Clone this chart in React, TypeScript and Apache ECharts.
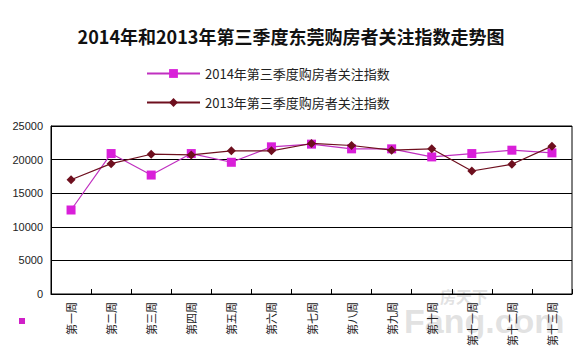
import React, { useEffect, useRef } from "react";
import * as echarts from "echarts";

const titleText = "2014年和2013年第三季度东莞购房者关注指数走势图";
const weeks = ["第一周", "第二周", "第三周", "第四周", "第五周", "第六周", "第七周", "第八周", "第九周", "第十周", "第十一周", "第十二周", "第十三周"];
const series2014Name = "2014年第三季度购房者关注指数";
const series2013Name = "2013年第三季度购房者关注指数";
const values2014 = [12500, 20900, 17700, 20900, 19600, 21900, 22300, 21600, 21600, 20400, 20900, 21400, 21000];
const values2013 = [17000, 19400, 20800, 20700, 21300, 21300, 22400, 22100, 21400, 21600, 18300, 19300, 22000];

const FONT = "'Noto Sans CJK SC', 'Noto Sans', sans-serif";

export default function App() {
  const ref = useRef<HTMLDivElement>(null);
  useEffect(() => {
    if (!ref.current) return;
    const chart = echarts.init(ref.current, null, { renderer: "svg" });
    chart.setOption({
      animation: false,
      backgroundColor: "#fff",
      textStyle: { fontFamily: FONT },
      title: {
        text: titleText,
        left: "center",
        top: 22,
        textStyle: { fontSize: 18, fontWeight: "bold", color: "#111", fontFamily: FONT },
      },
      legend: {
        orient: "vertical",
        left: 141,
        top: 62,
        itemWidth: 53,
        itemHeight: 11,
        itemGap: 16,
        textStyle: { fontSize: 13, color: "#222", fontFamily: FONT },
        data: [series2014Name, series2013Name],
      },
      grid: {
        left: 51,
        right: 10,
        top: 126,
        bottom: 63,
        show: true,
        borderColor: "#000",
        borderWidth: 1,
      },
      xAxis: {
        type: "category",
        data: weeks,
        boundaryGap: true,
        axisLine: { lineStyle: { color: "#000", width: 1 } },
        axisTick: { show: true, inside: true, length: 5, lineStyle: { color: "#000" } },
        axisLabel: { rotate: 90, fontSize: 11, color: "#222", margin: 8, interval: 0, fontFamily: FONT },
      },
      yAxis: {
        type: "value",
        min: 0,
        max: 25000,
        interval: 5000,
        axisLine: { show: true, lineStyle: { color: "#000" } },
        axisTick: { show: false },
        axisLabel: {
          fontSize: 11,
          color: "#222",
          margin: 8,
          fontFamily: "Arial, 'Liberation Sans', sans-serif",
          formatter: (v: number) => String(v),
        },
        splitLine: { show: true, lineStyle: { color: "#000", width: 1 } },
      },
      series: [
        {
          name: series2014Name,
          type: "line",
          data: values2014,
          symbol: "rect",
          symbolSize: 9,
          itemStyle: { color: "#D91FD9" },
          lineStyle: { color: "#C030C0", width: 1.2 },
          z: 3,
        },
        {
          name: series2013Name,
          type: "line",
          data: values2013,
          symbol: "diamond",
          symbolSize: 9,
          itemStyle: { color: "#6E0F1E" },
          lineStyle: { color: "#6E0F1E", width: 1.2 },
          z: 4,
        },
      ],
      graphic: [
        {
          type: "rect",
          left: 19,
          top: 318,
          shape: { width: 6, height: 6 },
          style: { fill: "#D020C8" },
        },
        {
          type: "text",
          left: 440,
          top: 288,
          z: -1,
          style: {
            text: "房天下",
            fontSize: 16,
            fontWeight: "bold",
            fontFamily: FONT,
            fill: "rgba(190,190,190,0.45)",
          },
        },
        {
          type: "text",
          left: 404,
          top: 304,
          z: -1,
          style: {
            text: "Fang.com",
            fontSize: 34,
            fontWeight: "bold",
            fontFamily: "Arial, 'Liberation Sans', sans-serif",
            fill: "rgba(190,190,190,0.45)",
          },
        },
      ],
    });
    return () => chart.dispose();
  }, []);
  return <div ref={ref} style={{ width: 582, height: 357, margin: -8 }} />;
}
